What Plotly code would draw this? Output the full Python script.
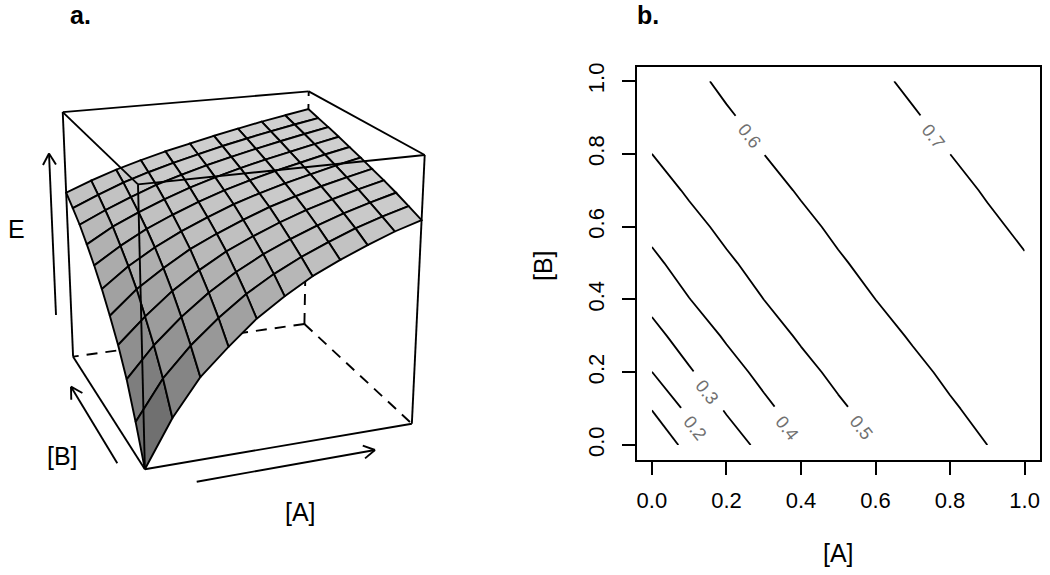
import numpy as np
import plotly.graph_objects as go

# ---- data ----
A_VALUES = [0.0, 0.1, 0.2, 0.3, 0.4, 0.5, 0.6, 0.7, 0.8, 0.9, 1.0]
B_VALUES = [0.0, 0.1, 0.2, 0.3, 0.4, 0.5, 0.6, 0.7, 0.8, 0.9, 1.0]
E_B00 = [0.000, 0.141, 0.250, 0.327, 0.398, 0.452, 0.500, 0.537, 0.570, 0.600, 0.624]
E_B01 = [0.105, 0.224, 0.310, 0.380, 0.440, 0.488, 0.528, 0.562, 0.593, 0.618, 0.640]
E_B02 = [0.199, 0.290, 0.363, 0.425, 0.476, 0.519, 0.554, 0.585, 0.612, 0.635, 0.656]
E_B03 = [0.270, 0.345, 0.411, 0.464, 0.510, 0.546, 0.578, 0.606, 0.630, 0.651, 0.670]
E_B04 = [0.328, 0.398, 0.452, 0.500, 0.537, 0.570, 0.600, 0.624, 0.646, 0.665, 0.683]
E_B05 = [0.380, 0.440, 0.488, 0.528, 0.562, 0.593, 0.618, 0.640, 0.660, 0.679, 0.696]
E_B06 = [0.425, 0.476, 0.519, 0.554, 0.585, 0.612, 0.635, 0.656, 0.674, 0.692, 0.708]
E_B07 = [0.464, 0.510, 0.546, 0.578, 0.606, 0.630, 0.651, 0.670, 0.687, 0.704, 0.720]
E_B08 = [0.500, 0.537, 0.570, 0.600, 0.624, 0.646, 0.665, 0.683, 0.700, 0.716, 0.731]
E_B09 = [0.528, 0.562, 0.593, 0.618, 0.640, 0.660, 0.679, 0.696, 0.712, 0.727, 0.741]
E_B10 = [0.554, 0.585, 0.612, 0.635, 0.656, 0.674, 0.692, 0.708, 0.724, 0.738, 0.752]
E_ROWS = [E_B00, E_B01, E_B02, E_B03, E_B04, E_B05, E_B06, E_B07, E_B08, E_B09, E_B10]
E_MAX = 0.81
TICKS = [0.0, 0.2, 0.4, 0.6, 0.8, 1.0]
TICK_TEXT = ["0.0", "0.2", "0.4", "0.6", "0.8", "1.0"]
CONTOUR_LABELS = ["0.2", "0.3", "0.4", "0.5", "0.6", "0.7"]
LABEL_A = [0.115, 0.147, 0.362, 0.562, 0.261, 0.753]
LABEL_B = [0.047, 0.146, 0.047, 0.047, 0.848, 0.848]

# ---- viewing parameters of the perspective box (left panel) ----
THETA, PHI = np.radians(20), np.radians(20)
DIST, FOCAL, CX, CY = 5.19, 1413.0, 233.6, 264.6
INK = "#000000"
FONT = "Liberation Sans"
LW = 1.9
PLOT_TOP = 4.0  # vertical calibration of the drawing area

right = np.array([np.cos(THETA), -np.sin(THETA), 0])
horiz = np.array([np.sin(THETA), np.cos(THETA), 0])
up = horiz * np.sin(PHI) + np.array([0, 0, np.cos(PHI)])
fwd = horiz * np.cos(PHI) - np.array([0, 0, np.sin(PHI)])


def cube(a, b, e):
    return np.array([a - 0.5, b - 0.5, e / E_MAX - 0.5])


def project(a, b, e):
    p = cube(a, b, e)
    d = DIST + p @ fwd
    return CX + FOCAL * (p @ right) / d, CY - FOCAL * (p @ up) / d


def depth(a, b, e):
    return cube(a, b, e) @ fwd


fig = go.Figure()


def edge(c0, c1, dash="solid"):
    p0, p1 = project(*c0), project(*c1)
    fig.add_trace(go.Scatter(x=[p0[0], p1[0]], y=[p0[1], p1[1]], mode="lines",
                             line=dict(color=INK, width=LW, dash=dash),
                             hoverinfo="skip", showlegend=False, xaxis="x", yaxis="y"))


# hidden box edges first
DASH = "11px,8px"
edge((1, 1, 0), (0, 1, 0), DASH)
edge((1, 1, 0), (1, 0, 0), DASH)
edge((1, 1, 0), (1, 1, E_MAX), DASH)
edge((0, 1, E_MAX), (1, 1, E_MAX))
edge((1, 1, E_MAX), (1, 0, E_MAX))

# surface facets, far ones first
E = np.array(E_ROWS)
faces = []
for j in range(len(B_VALUES) - 1):
    for i in range(len(A_VALUES) - 1):
        corners = [(A_VALUES[i], B_VALUES[j], E[j, i]),
                   (A_VALUES[i + 1], B_VALUES[j], E[j, i + 1]),
                   (A_VALUES[i + 1], B_VALUES[j + 1], E[j + 1, i + 1]),
                   (A_VALUES[i], B_VALUES[j + 1], E[j + 1, i])]
        faces.append(corners)
faces.sort(key=lambda c: -np.mean([depth(*p) for p in c]))
for corners in faces:
    pts = [cube(*p) for p in corners]
    n = np.cross(pts[2] - pts[0], pts[3] - pts[1])
    nz = abs(n[2]) / np.linalg.norm(n)
    g = int(round(212 * nz ** 0.8))
    xy = [project(*p) for p in corners + corners[:1]]
    fig.add_trace(go.Scatter(x=[q[0] for q in xy], y=[q[1] for q in xy], mode="lines",
                             fill="toself", fillcolor=f"rgb({g},{g},{g})",
                             line=dict(color=INK, width=LW), hoverinfo="skip",
                             showlegend=False, xaxis="x", yaxis="y"))

# front box edges on top
edge((0, 0, 0), (1, 0, 0))
edge((0, 0, 0), (0, 1, 0))
edge((0, 1, 0), (0, 1, E_MAX))
edge((1, 0, 0), (1, 0, E_MAX))
edge((0, 0, 0), (0, 0, E_MAX))
edge((0, 0, E_MAX), (0, 1, E_MAX))
edge((0, 0, E_MAX), (1, 0, E_MAX))

# right panel: contour lines from the same table
fig.add_trace(go.Contour(x=A_VALUES, y=B_VALUES, z=E_ROWS, showscale=False, hoverinfo="skip",
                         contours=dict(start=0.1, end=0.7, size=0.1, coloring="none", showlabels=False),
                         line=dict(color=INK, width=1.8, smoothing=0), xaxis="x2", yaxis="y2"))

annotations = []
for txt, a, b in zip(CONTOUR_LABELS, LABEL_A, LABEL_B):
    annotations.append(dict(text=txt, x=a, y=b, xref="x2", yref="y2", showarrow=False, textangle=52,
                            width=46, height=24, align="center", valign="middle", bgcolor="white",
                            font=dict(family=FONT, size=18, color="#707070")))


def page_text(txt, x, y, size=25, bold=False, angle=0):
    annotations.append(dict(text=f"<b>{txt}</b>" if bold else txt, x=x, y=y, xref="x", yref="y",
                            showarrow=False, textangle=angle, xanchor="center", yanchor="middle",
                            font=dict(family=FONT, size=size, color=INK)))


page_text("a.", 80, 15, size=25, bold=True)
page_text("b.", 648, 15, size=25, bold=True)
page_text("E", 16, 229)
page_text("[B]", 62, 456)
page_text("[A]", 300, 512)
page_text("[A]", 838, 553)
page_text("[B]", 543, 266, angle=-90)

# hand-drawn arrows beside the box
shapes = []


def arrow(tail, tip, head=13.0, spread=np.radians(30)):
    t, p = np.array(tail, float), np.array(tip, float)
    u = (t - p) / np.linalg.norm(t - p)
    segs = [t]
    for s in (spread, -spread):
        rot = np.array([[np.cos(s), -np.sin(s)], [np.sin(s), np.cos(s)]])
        segs.append(p + head * rot @ u)
    for q in segs:
        shapes.append(dict(type="line", xref="x", yref="y", x0=p[0], y0=p[1], x1=q[0], y1=q[1],
                           line=dict(color=INK, width=LW)))


arrow((56, 315), (49, 153.5))
arrow((117.3, 463.3), (71, 386.7))
arrow((196.7, 481.7), (375, 450))

axis_style = dict(showgrid=False, zeroline=False, showline=True, mirror=True, linecolor=INK, linewidth=1.8,
                  ticks="outside", ticklen=13, tickwidth=1.8, tickcolor=INK, tickvals=TICKS, ticktext=TICK_TEXT,
                  tickfont=dict(family=FONT, size=22, color=INK))
span = 575 - PLOT_TOP

fig.update_layout(
    width=1050, height=575, autosize=False, margin=dict(l=0, r=0, t=0, b=0),
    paper_bgcolor="white", plot_bgcolor="white", showlegend=False,
    xaxis=dict(domain=[0, 1], range=[0, 1050], visible=False, fixedrange=True),
    yaxis=dict(domain=[0, 1], range=[575, PLOT_TOP], visible=False, fixedrange=True),
    xaxis2=dict(domain=[637 / 1050, 1039.5 / 1050], range=[-0.04, 1.04], anchor="y2", tickangle=0,
                ticklabelstandoff=7, **axis_style),
    yaxis2=dict(domain=[(575 - 459.6) / span, (575 - 66.6) / span], range=[-0.04, 1.04], anchor="x2", tickangle=-90,
                ticklabelstandoff=9, **axis_style),
    annotations=annotations, shapes=shapes,
)
fig.write_html("out.html", config=dict(displayModeBar=False),
               post_script="document.body.style.margin='0';document.documentElement.style.overflow='hidden';")
